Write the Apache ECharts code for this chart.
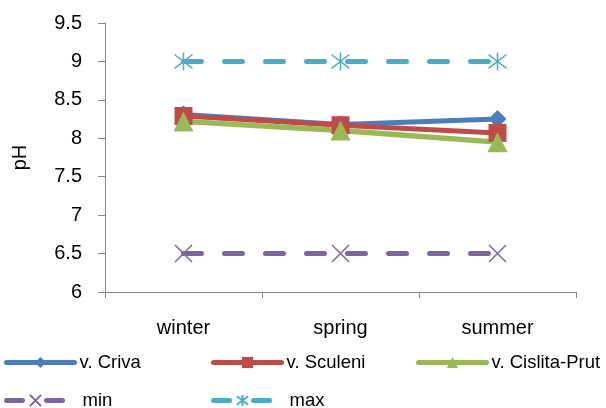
<!DOCTYPE html>
<html><head><meta charset="utf-8">
<script src="https://cdn.jsdelivr.net/npm/echarts@6/dist/echarts.min.js"></script>
<style>html,body{margin:0;padding:0;background:#fff}#c{width:606px;height:408px}</style>
</head><body><div id="c"></div>
<script>
var categories = ['winter', 'spring', 'summer'];
var criva = [8.31, 8.18, 8.25];
var sculeni = [8.29, 8.17, 8.07];
var cislita = [8.22, 8.10, 7.95];
var minVals = [6.5, 6.5, 6.5];
var maxVals = [9, 9, 9];
var seriesNames = ['v. Criva', 'v. Sculeni', 'v. Cislita-Prut', 'min', 'max'];

var FONT = '"Liberation Sans", Arial, sans-serif';
var xPath = 'path://M0,0L10,10M10,0L0,10';
var starPath = 'path://M0,0L10,10M10,0L0,10M5,-1.5L5,11.5';

var chart = echarts.init(document.getElementById('c'), null, {renderer: 'canvas'});
function legendAt(name, left, top, w, pad, dashed) {
  return {
    data: [name], left: left, top: top, itemWidth: w, itemHeight: 14, itemGap: 0, padding: 0,
    lineStyle: dashed ? {width: 5, cap: 'round', type: [16, 24]} : {width: 5, cap: 'round'},
    textStyle: {fontFamily: FONT, fontSize: 18.5, color: '#000', padding: [0, 0, 0, pad]}
  };
}
chart.setOption({
  animation: false,
  backgroundColor: '#fff',
  grid: {left: 105, right: 30, top: 23, bottom: 116, containLabel: false},
  legend: [
    legendAt(seriesNames[0], 4, 353, 68, 0, false),
    legendAt(seriesNames[1], 211, 353, 68, 0, false),
    legendAt(seriesNames[2], 416, 353, 68, 0, false),
    legendAt(seriesNames[3], 4, 391, 58, 13, true),
    legendAt(seriesNames[4], 211, 391, 58, 13, true)
  ],
  xAxis: {
    type: 'category', data: categories, boundaryGap: true,
    axisLine: {lineStyle: {color: '#868686', width: 1}},
    axisTick: {show: true, length: 6, lineStyle: {color: '#868686'}},
    axisLabel: {fontFamily: FONT, fontSize: 20, color: '#000', margin: 26}
  },
  yAxis: {
    type: 'value', min: 6, max: 9.5, interval: 0.5,
    name: 'pH', nameLocation: 'middle', nameGap: 75,
    nameTextStyle: {fontFamily: FONT, fontSize: 20, color: '#000'},
    axisLine: {show: true, lineStyle: {color: '#868686', width: 1}},
    axisTick: {show: true, length: 7, lineStyle: {color: '#868686'}},
    splitLine: {show: false},
    axisLabel: {fontFamily: FONT, fontSize: 20, color: '#000', margin: 23}
  },
  series: [
    {name: seriesNames[0], type: 'line', data: criva, symbol: 'diamond', symbolSize: 18,
     lineStyle: {color: '#4A7EBB', width: 5}, itemStyle: {color: '#4A7EBB'}},
    {name: seriesNames[1], type: 'line', data: sculeni, symbol: 'rect', symbolSize: 18,
     lineStyle: {color: '#BE4B48', width: 5}, itemStyle: {color: '#BE4B48'}},
    {name: seriesNames[2], type: 'line', data: cislita, symbol: 'triangle', symbolSize: 20,
     lineStyle: {color: '#98B954', width: 5.5}, itemStyle: {color: '#98B954'}},
    {name: seriesNames[3], type: 'line', data: minVals, symbol: xPath, symbolSize: 17,
     lineStyle: {color: '#8064A2', width: 5, type: [18, 23], cap: 'round'},
     itemStyle: {color: 'rgba(0,0,0,0)', borderColor: '#8064A2', borderWidth: 1.5}},
    {name: seriesNames[4], type: 'line', data: maxVals, symbol: starPath, symbolSize: 18,
     lineStyle: {color: '#4BACC6', width: 5, type: [18, 23], cap: 'round'},
     itemStyle: {color: 'rgba(0,0,0,0)', borderColor: '#4BACC6', borderWidth: 1.5}}
  ]
});
</script></body></html>
